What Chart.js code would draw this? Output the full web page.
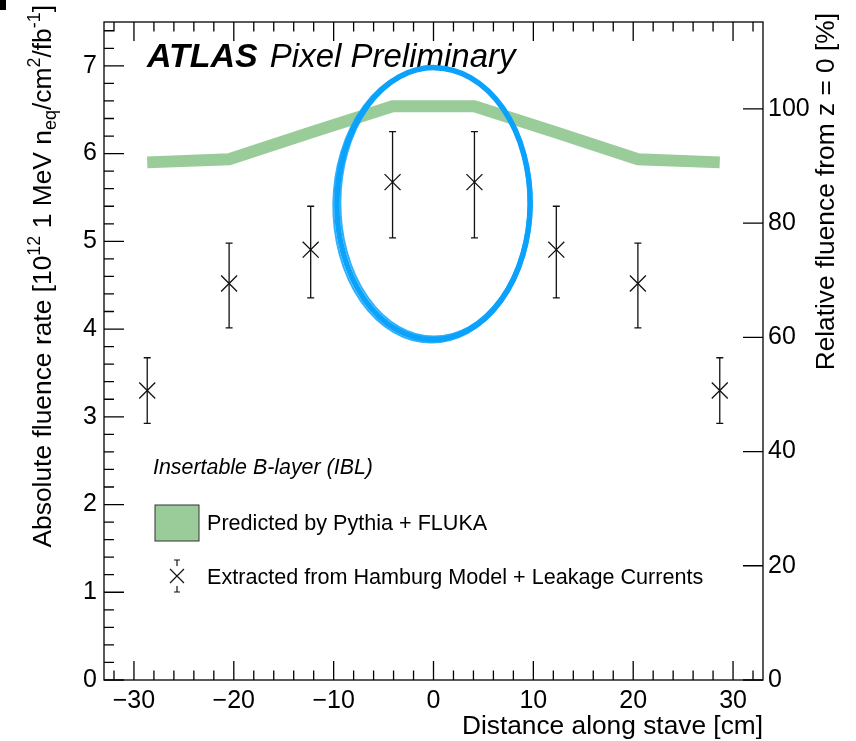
<!DOCTYPE html>
<html><head><meta charset="utf-8">
<script src="https://cdn.jsdelivr.net/npm/chart.js@4.4.1/dist/chart.umd.min.js"></script>
<style>html,body{margin:0;padding:0;background:#fff}#wrap{width:856px;height:741px;position:relative}canvas{display:block}</style>
</head><body><div id="wrap"><canvas id="c" width="856" height="741"></canvas></div>
<script>
// ---- data ----
const positions = [-28.67, -20.47, -12.3, -4.1, 4.1, 12.3, 20.47, 28.67];
const measured  = [3.30, 4.52, 4.905, 5.675, 5.675, 4.905, 4.52, 3.30];
const errUp     = [3.673, 4.98, 5.40, 6.25, 6.25, 5.40, 4.98, 3.673];
const errDown   = [2.925, 4.014, 4.355, 5.04, 5.04, 4.355, 4.014, 2.925];
const predicted = [5.90, 5.935, 6.24, 6.54, 6.54, 6.24, 5.935, 5.90];
const xTicks  = [-30, -20, -10, 0, 10, 20, 30];
const yTicks  = [0, 1, 2, 3, 4, 5, 6, 7];
const y2Ticks = [0, 20, 40, 60, 80, 100];
const highlight = { x: 0, y: 5.43, rx: 9.68, ry: 1.55 }; // hand-drawn ellipse (data units)

const FONT = '"Liberation Sans", Arial, Helvetica, sans-serif';
const GREEN = '#99cc99';
const BLUE = '#0ba2fb';

const measuredPts = positions.map((x, i) => ({ x, y: measured[i] }));
const predictedPts = positions.map((x, i) => ({ x, y: predicted[i] }));

function drawRich(ctx, parts, size) {
  let w = 0;
  for (const [t, s] of parts) {
    ctx.font = (s ? size * 0.68 : size) + 'px ' + FONT;
    w += ctx.measureText(t).width;
  }
  return w;
}
function paintRich(ctx, parts, size, x0, y0) {
  let x = x0;
  for (const [t, s] of parts) {
    ctx.font = (s ? size * 0.68 : size) + 'px ' + FONT;
    const dy = s === 1 ? -size * 0.42 : (s === -1 ? size * 0.2 : 0);
    ctx.fillText(t, x, y0 + dy);
    x += ctx.measureText(t).width;
  }
}

const decor = {
  id: 'decor',
  afterDatasetsDraw(chart) {
    const { ctx, chartArea: a, scales } = chart;
    const xs = scales.x, ys = scales.y;
    ctx.save();
    // error bars
    ctx.strokeStyle = '#111';
    ctx.lineWidth = 1.3;
    positions.forEach((x, i) => {
      const px = xs.getPixelForValue(x);
      const pu = ys.getPixelForValue(errUp[i]);
      const pd = ys.getPixelForValue(errDown[i]);
      ctx.beginPath();
      ctx.moveTo(px, pu); ctx.lineTo(px, pd);
      ctx.moveTo(px - 3.5, pu); ctx.lineTo(px + 3.5, pu);
      ctx.moveTo(px - 3.5, pd); ctx.lineTo(px + 3.5, pd);
      ctx.stroke();
    });

    // frame
    ctx.strokeStyle = '#000';
    ctx.lineWidth = 1.3;
    ctx.strokeRect(a.left, a.top, a.right - a.left, a.bottom - a.top);
    ctx.beginPath();
    for (let v = -32; v <= 32; v += 2) {
      const p = xs.getPixelForValue(v);
      const L = (v % 10 === 0) ? 19 : 9.5;
      ctx.moveTo(p, a.bottom); ctx.lineTo(p, a.bottom - L);
      ctx.moveTo(p, a.top); ctx.lineTo(p, a.top + L);
    }
    for (let k = 0; k <= 37; k++) {
      const v = k * 0.2;
      const p = ys.getPixelForValue(v);
      const L = (k % 5 === 0) ? 20 : 10;
      ctx.moveTo(a.left, p); ctx.lineTo(a.left + L, p);
    }
    y2Ticks.forEach(v => {
      const p = scales.y1.getPixelForValue(v);
      ctx.moveTo(a.right, p); ctx.lineTo(a.right - 20, p);
    });
    ctx.stroke();

    // ATLAS label
    ctx.fillStyle = '#000';
    ctx.textBaseline = 'alphabetic';
    ctx.textAlign = 'left';
    ctx.font = 'italic bold 34px ' + FONT;
    ctx.fillText('ATLAS', 147, 67);
    const wA = ctx.measureText('ATLAS').width;
    ctx.font = 'italic 33px ' + FONT;
    ctx.fillText('Pixel Preliminary', 147 + wA + 12, 67);

    // hand-drawn ellipse (drawn over the label)
    const cx = xs.getPixelForValue(highlight.x);
    const cy = ys.getPixelForValue(highlight.y);
    const rx = Math.abs(xs.getPixelForValue(highlight.x + highlight.rx) - cx);
    const ry = Math.abs(ys.getPixelForValue(highlight.y + highlight.ry) - cy);
    ctx.strokeStyle = BLUE;
    ctx.lineWidth = 5.5;
    ctx.beginPath(); ctx.ellipse(cx, cy, rx, ry, 0.01, 0, Math.PI * 2); ctx.stroke();
    ctx.lineWidth = 2;
    ctx.globalAlpha = 0.85;
    ctx.beginPath(); ctx.ellipse(cx - 1, cy + 1, rx + 2.5, ry + 2, 0.015, 0, Math.PI * 2); ctx.stroke();
    ctx.beginPath(); ctx.ellipse(cx + 1, cy - 1, rx - 2.5, ry - 2, 0.005, 0, Math.PI * 2); ctx.stroke();
    ctx.globalAlpha = 1;

    // legend
    ctx.fillStyle = '#000';
    ctx.font = 'italic 21.4px ' + FONT;
    ctx.fillText('Insertable B-layer (IBL)', 153, 474);
    ctx.fillStyle = GREEN;
    ctx.fillRect(155, 505, 44, 36);
    ctx.strokeStyle = '#333';
    ctx.lineWidth = 1;
    ctx.strokeRect(155, 505, 44, 36);
    ctx.fillStyle = '#000';
    ctx.font = '21.6px ' + FONT;
    ctx.fillText('Predicted by Pythia + FLUKA', 207, 530);
    ctx.fillText('Extracted from Hamburg Model + Leakage Currents', 207, 584);
    ctx.strokeStyle = '#111';
    ctx.lineWidth = 1.2;
    const lx = 177, ly = 576;
    ctx.beginPath();
    ctx.moveTo(lx - 7, ly - 7); ctx.lineTo(lx + 7, ly + 7);
    ctx.moveTo(lx + 7, ly - 7); ctx.lineTo(lx - 7, ly + 7);
    ctx.moveTo(lx, ly - 16); ctx.lineTo(lx, ly - 10);
    ctx.moveTo(lx, ly + 10); ctx.lineTo(lx, ly + 16);
    ctx.moveTo(lx - 3, ly - 16); ctx.lineTo(lx + 3, ly - 16);
    ctx.moveTo(lx - 3, ly + 16); ctx.lineTo(lx + 3, ly + 16);
    ctx.stroke();

    // axis titles
    ctx.font = '26.3px ' + FONT;
    ctx.textAlign = 'right';
    ctx.fillText('Distance along stave [cm]', a.right, 734);

    ctx.save();
    ctx.translate(834, a.top - 9);
    ctx.rotate(-Math.PI / 2);
    ctx.textAlign = 'right';
    ctx.font = '26.3px ' + FONT;
    ctx.fillText('Relative fluence from z = 0 [%]', 0, 0);
    ctx.restore();

    const parts = [['Absolute fluence rate [10', 0], ['12', 1], [' 1 MeV n', 0], ['eq', -1],
                   ['/cm', 0], ['2', 1], ['/fb', 0], ['-1', 1], [']', 0]];
    ctx.save();
    ctx.translate(51, 5);
    ctx.rotate(-Math.PI / 2);
    ctx.textAlign = 'left';
    const W = drawRich(ctx, parts, 26.4);
    paintRich(ctx, parts, 26.4, -W, 0);
    ctx.restore();

    // cropped glyph fragment at the top-left corner of the image
    ctx.fillStyle = '#000';
    ctx.fillRect(0, 0, 6, 10);

    ctx.restore();
  }
};

new Chart(document.getElementById('c'), {
  type: 'scatter',
  data: {
    datasets: [
      { type: 'line', label: 'Predicted by Pythia + FLUKA', data: predictedPts,
        borderColor: GREEN, backgroundColor: GREEN, borderWidth: 12, pointRadius: 0,
        tension: 0, borderCapStyle: 'butt', borderJoinStyle: 'miter', order: 2, yAxisID: 'y' },
      { label: 'Extracted from Hamburg Model + Leakage Currents', data: measuredPts,
        pointStyle: 'crossRot', pointRadius: 11.3, borderColor: '#111', borderWidth: 1.3,
        backgroundColor: 'rgba(0,0,0,0)', order: 1, yAxisID: 'y' }
    ]
  },
  options: {
    responsive: false, animation: false, events: [], devicePixelRatio: 1,
    layout: { padding: { top: 12, left: 0, right: 0, bottom: 0 } },
    plugins: { legend: { display: false }, tooltip: { enabled: false } },
    scales: {
      x: { type: 'linear', position: 'bottom', min: -33, max: 33,
        afterBuildTicks: s => { s.ticks = xTicks.map(v => ({ value: v })); },
        afterFit: s => { s.height = 61; },
        grid: { display: false, drawTicks: false }, border: { display: false },
        ticks: { color: '#000', font: { family: FONT, size: 25 }, padding: 6, maxRotation: 0,
          callback: v => (v < 0 ? '\u2212' + Math.abs(v) : String(v)) } },
      y: { type: 'linear', position: 'left', min: 0, max: 7.5,
        afterBuildTicks: s => { s.ticks = yTicks.map(v => ({ value: v })); },
        afterFit: s => { s.width = 104; },
        grid: { display: false, drawTicks: false }, border: { display: false },
        ticks: { color: '#000', font: { family: FONT, size: 25 }, padding: 7 } },
      y1: { type: 'linear', position: 'right', min: 0, max: 115.2,
        afterBuildTicks: s => { s.ticks = y2Ticks.map(v => ({ value: v })); },
        afterFit: s => { s.width = 93; },
        grid: { display: false, drawTicks: false }, border: { display: false },
        ticks: { color: '#000', font: { family: FONT, size: 25 }, padding: 5 } }
    }
  },
  plugins: [decor]
});
</script></body></html>
